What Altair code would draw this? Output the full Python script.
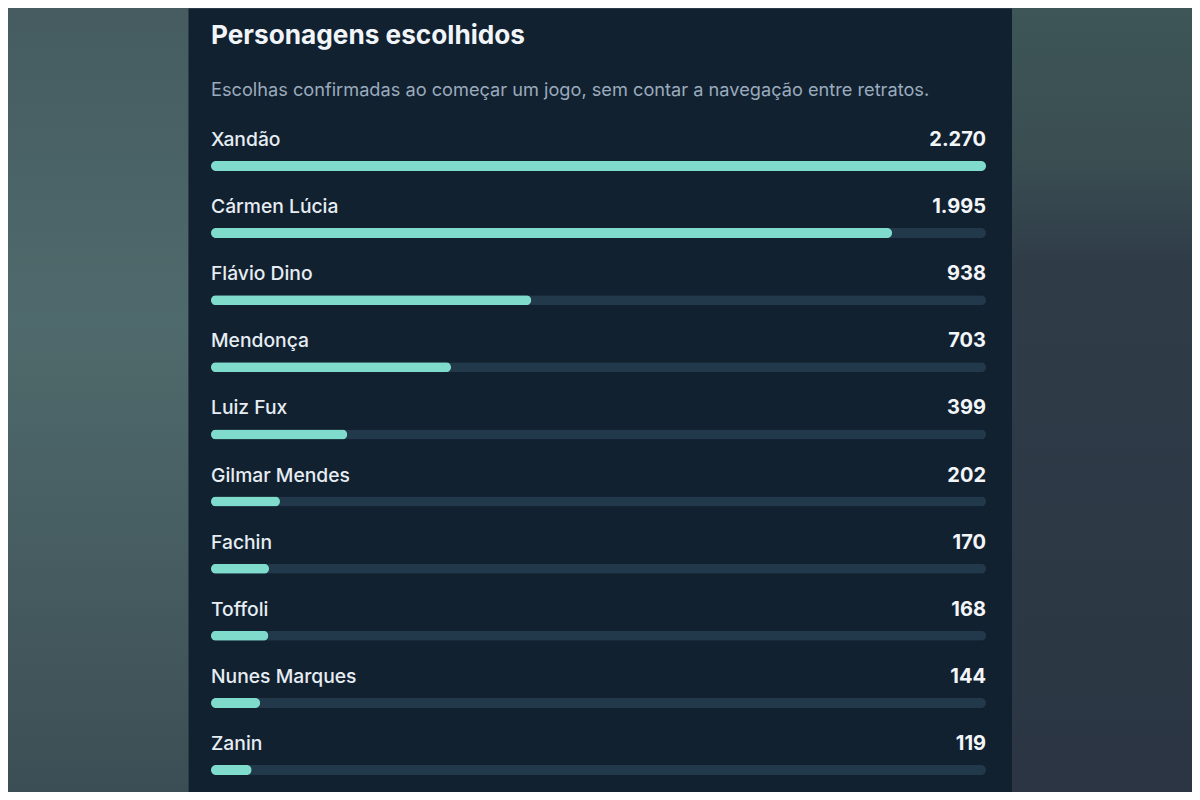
import altair as alt
import pandas as pd

# personagens e escolhas confirmadas
names = [
    "Xandão", "Cármen Lúcia", "Flávio Dino", "Mendonça", "Luiz Fux",
    "Gilmar Mendes", "Fachin", "Toffoli", "Nunes Marques", "Zanin",
]
counts = [2270, 1995, 938, 703, 399, 202, 170, 168, 144, 119]

title_text = "Personagens escolhidos"
subtitle_text = "Escolhas confirmadas ao começar um jogo, sem contar a navegação entre retratos."

CARD = "#122130"
TRACK = "#22384b"
FILL = "#7fdccd"
FONT = "Inter"

df = pd.DataFrame({
    "name": names,
    "count": counts,
    "top": [max(counts)] * len(counts),
    "label": [f"{c:,}".replace(",", ".") for c in counts],
})

xscale = alt.Scale(domain=[0, max(counts)], range=[23, 798])
yscale = alt.Scale(type="point", domain=names, range=[158, 762], padding=0)

base = alt.Chart(df).encode(
    y=alt.Y("name:N", scale=yscale, axis=None),
)

track = base.mark_bar(size=10, cornerRadius=5, color=TRACK).encode(
    x=alt.X("top:Q", scale=xscale, axis=None),
)
bars = base.mark_bar(size=10, cornerRadius=5, color=FILL).encode(
    x=alt.X("count:Q", scale=xscale, axis=None),
)
names_txt = base.mark_text(
    align="left", baseline="middle", dy=-26, fontSize=19.3, font=FONT,
    fontWeight=500, color="#e6edf3",
).encode(x=alt.X("zero:Q", scale=xscale, axis=None), text="name:N").transform_calculate(zero="0")
values_txt = base.mark_text(
    align="right", baseline="middle", dy=-26, fontSize=20, font=FONT,
    fontWeight="bold", color="#f3f6f9",
).encode(x=alt.X("top:Q", scale=xscale, axis=None), text="label:N")

# titulo e subtitulo dentro do cartão
one = pd.DataFrame({"t": [title_text], "s": [subtitle_text]})
title = alt.Chart(one).mark_text(
    align="left", baseline="middle", fontSize=26.2, font=FONT,
    fontWeight="bold", color="#f1f5f9",
).encode(x=alt.value(23), y=alt.value(28), text="t:N")
subtitle = alt.Chart(one).mark_text(
    align="left", baseline="middle", fontSize=18.2, font=FONT, color="#9aabbd",
).encode(x=alt.value(23), y=alt.value(83), text="s:N")

# fundo desfocado dos lados
left_grad = {
    "gradient": "linear", "x1": 0, "y1": 0, "x2": 0, "y2": 1,
    "stops": [
        {"offset": 0, "color": "#455b60"},
        {"offset": 0.4, "color": "#4f6a6c"},
        {"offset": 0.7, "color": "#465c60"},
        {"offset": 1, "color": "#3b4d54"},
    ],
}
right_grad = {
    "gradient": "linear", "x1": 0, "y1": 0, "x2": 0, "y2": 1,
    "stops": [
        {"offset": 0, "color": "#3e5657"},
        {"offset": 0.2, "color": "#3a4e52"},
        {"offset": 0.33, "color": "#2f3c48"},
        {"offset": 1, "color": "#2b3543"},
    ],
}
left_bg = alt.Chart(one).mark_rect(color=left_grad).encode(
    x=alt.value(-190), x2=alt.value(0), y=alt.value(-10), y2=alt.value(800)
)
right_bg = alt.Chart(one).mark_rect(color=right_grad).encode(
    x=alt.value(824), x2=alt.value(1020), y=alt.value(-10), y2=alt.value(800)
)

chart = (
    alt.layer(left_bg, right_bg, title, subtitle, track, bars, names_txt, values_txt)
    .properties(
        width=824,
        height=784,
        padding={"left": 180, "right": 180, "top": 0, "bottom": 0},
        autosize=alt.AutoSizeParams(type="none"),
        background="#44595d",
    )
    .configure_view(fill=CARD, stroke="transparent")
)

chart.save("out.html", embed_options={"renderer": "svg", "actions": False})
